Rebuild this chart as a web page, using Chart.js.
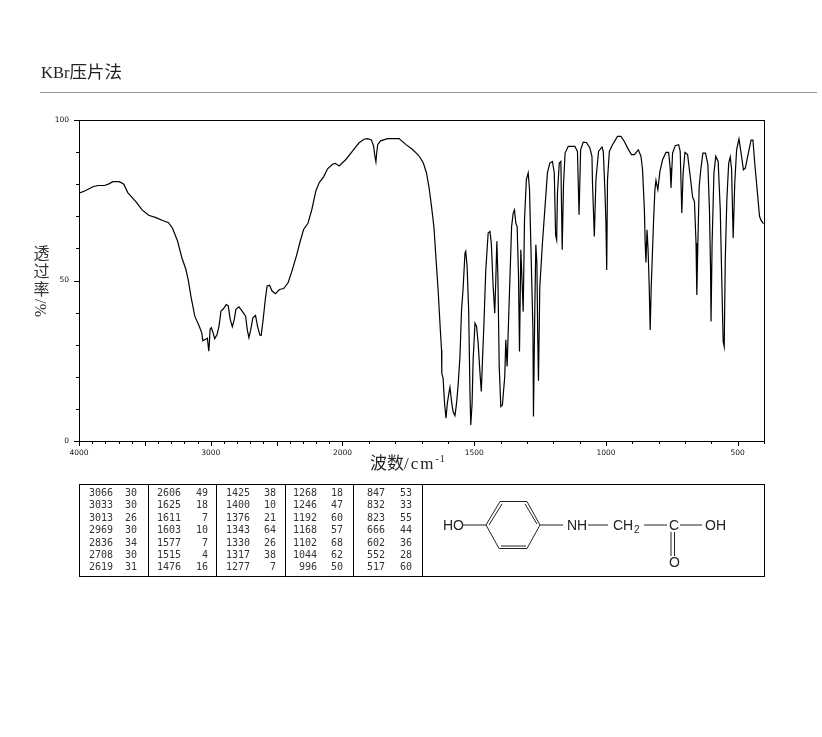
<!DOCTYPE html>
<html>
<head>
<meta charset="utf-8">
<title>KBr压片法</title>
<script src="https://cdn.jsdelivr.net/npm/chart.js@4"></script>
<style>
html, body { margin: 0; padding: 0; background: #fff; }
#page { position: relative; width: 822px; height: 737px; overflow: hidden; color: #222; }
#page > * { position: absolute; }
#myChart { left: 0; top: 0; }
#sampleTitle { left: 41px; top: 59px; font: 17.5px "Noto Sans CJK SC", sans-serif; line-height: 24px; white-space: nowrap; }
#sampleTitle span { font: 16.5px "Liberation Serif", serif; }
#rule { left: 40px; top: 92px; width: 777px; height: 1px; background: #999; }
#yTitle { left: 33px; top: 243px; width: 17px; font: 16px "Noto Sans CJK SC", sans-serif; line-height: 18px; color: #333; text-align: center; }
#yUnit { left: 32px; top: 299px; width: 18px; height: 18px; transform: rotate(-90deg); font: 16px "Liberation Serif", serif; line-height: 18px; color: #333; text-align: center; white-space: nowrap; }
#xTitle { left: 370px; top: 450px; font: 17px "Noto Sans CJK SC", sans-serif; line-height: 24px; white-space: nowrap; }
#xTitle span { font: 17px "Liberation Serif", serif; letter-spacing: 2px; }
#xTitle sup { font: 10px "Liberation Serif", serif; letter-spacing: 1px; line-height: 0; vertical-align: 7px; }
#peakBox { left: 79px; top: 484px; width: 684px; height: 91px; border: 1px solid #000; }
.sep { top: 484px; width: 1px; height: 92px; background: #000; }
.num { font: 10px "DejaVu Sans Mono", monospace; line-height: 12px; text-align: right; white-space: nowrap; color: #333; }
#molecule { left: 424px; top: 486px; }
#molecule text { font: 14px "Liberation Sans", sans-serif; fill: #222; }
#molecule line { stroke: #222; stroke-width: 1; }
</style>
</head>
<body>
<div id="page">
  <canvas id="myChart" width="822" height="737"></canvas>
  <div id="sampleTitle"><span>KBr</span>压片法</div>
  <div id="rule"></div>
  <div id="yTitle">透<br>过<br>率</div>
  <div id="yUnit">%/</div>
  <div id="xTitle">波数<span>/cm</span><sup>-1</sup></div>
  <div id="peakBox"></div>
  <svg id="molecule" width="340" height="90" viewBox="424 486 340 90">
    <text x="443" y="530">HO</text>
    <line x1="463" y1="525" x2="486" y2="525"/>
    <line x1="486" y1="525" x2="500" y2="501.5"/>
    <line x1="500" y1="501.5" x2="527" y2="501.5"/>
    <line x1="527" y1="501.5" x2="540" y2="525"/>
    <line x1="540" y1="525" x2="527" y2="548.5"/>
    <line x1="527" y1="548.5" x2="499" y2="548.5"/>
    <line x1="499" y1="548.5" x2="486" y2="525"/>
    <line x1="489" y1="525" x2="502" y2="504"/>
    <line x1="525" y1="504" x2="537" y2="524"/>
    <line x1="501" y1="546" x2="526" y2="546"/>
    <line x1="540" y1="525" x2="563" y2="525"/>
    <text x="567" y="530">NH</text>
    <line x1="588" y1="525" x2="608" y2="525"/>
    <text x="613" y="530">CH</text>
    <text x="634" y="533" style="font-size:10px">2</text>
    <line x1="644" y1="525" x2="667" y2="525"/>
    <text x="669" y="530">C</text>
    <line x1="680" y1="525" x2="702" y2="525"/>
    <text x="705" y="530">OH</text>
    <line x1="671" y1="532" x2="671" y2="556"/>
    <line x1="674.5" y1="532" x2="674.5" y2="556"/>
    <text x="669" y="567">O</text>
  </svg>
</div>
<script>
// spectrum: wavenumber (cm-1) and transmittance (%)
const wavenumbers = [
    4000, 3957, 3894, 3856, 3806, 3773, 3743, 3693, 3660, 3630, 3567, 3521, 3471, 3416, 3365, 3320,
    3290, 3252, 3219, 3189, 3169, 3151, 3121, 3088, 3068, 3060, 3038, 3025, 3015, 3010, 3005, 2995,
    2982, 2970, 2952, 2937, 2922, 2904, 2882, 2867, 2852, 2836, 2821, 2809, 2786, 2771, 2735, 2723,
    2710, 2698, 2680, 2660, 2645, 2627, 2617, 2602, 2584, 2572, 2554, 2534, 2509, 2478, 2446, 2413,
    2383, 2350, 2320, 2295, 2262, 2232, 2202, 2176, 2143, 2113, 2075, 2055, 2025,
    1987, 1962, 1937, 1918, 1905, 1890, 1882, 1877, 1873, 1870, 1866, 1855, 1829, 1785, 1760, 1735, 1715,
    1706, 1693, 1681, 1671, 1662, 1653, 1643, 1637, 1630, 1624, 1623, 1618, 1612, 1607, 1602, 1596,
    1592, 1585, 1580, 1573, 1567, 1561, 1554, 1548, 1542, 1535, 1532, 1527, 1521, 1516, 1513, 1508,
    1504, 1497, 1491, 1485, 1478, 1473, 1470, 1463, 1456, 1447, 1440, 1435, 1428, 1422, 1418, 1414,
    1410, 1405, 1399, 1393, 1384, 1380, 1375, 1367, 1358, 1352, 1347, 1342, 1337, 1332, 1328, 1323,
    1319, 1314, 1309, 1302, 1295, 1290, 1282, 1277, 1275, 1270, 1266, 1262, 1259, 1256, 1251, 1241,
    1232, 1222, 1213, 1203, 1196, 1191, 1187, 1184, 1177, 1171, 1166, 1161, 1155, 1143, 1118, 1108,
    1102, 1096, 1086, 1074, 1061, 1053,
    1051, 1044, 1038, 1028, 1015, 1010, 1004, 1000, 997, 994, 987, 975, 956, 943, 930, 914, 903, 892,
    877, 867, 861, 854, 851, 848, 844, 840, 836, 832, 828, 823, 819, 814, 810, 803, 795, 785, 772, 762,
    756, 753, 747, 737, 724, 718, 712, 707, 700, 690, 680, 671, 664, 658, 655, 651, 646, 640, 632, 622,
    613, 607, 603, 601, 597, 590, 583, 574, 566, 560, 555, 551, 547, 541, 534, 528, 523, 517, 511, 504,
    495, 487, 478, 471, 458, 449, 442, 434, 426, 417, 411, 402
];
const transmittance = [
    77.2, 77.9, 79.2, 79.6, 79.6, 80.1, 80.8, 80.8, 80.0, 77.4, 74.5, 72.0, 70.3, 69.6, 68.7, 68.0,
    66.3, 62.3, 57.1, 53.5, 49.8, 45.2, 38.9, 35.8, 33.7, 31.2, 31.7, 32.0, 28.0, 30.6, 34.8, 35.3,
    33.7, 31.9, 33.2, 35.8, 40.5, 41.2, 42.5, 42.1, 37.9, 35.6, 37.9, 41.0, 41.8, 41.0, 38.9, 34.8,
    32.2, 34.3, 38.4, 39.1, 35.8, 33.0, 32.9, 37.9, 44.7, 48.3, 48.5, 46.7, 45.9, 47.2, 47.5, 49.3,
    53.0, 57.6, 62.3, 65.9, 67.8, 72.2, 77.9, 80.5, 82.3, 84.8, 86.2, 86.5, 85.7,
    87.7, 90.3, 92.9, 94.0, 94.2, 93.8, 91.9, 88.8, 87.0, 89.8, 92.4, 93.5, 94.2, 94.2, 92.4, 90.9, 89.3,
    88.4, 86.6, 83.5, 78.8, 73.1, 66.8, 54.4, 47.1, 36.7, 28.4, 21.1, 19.5, 11.2, 7.1, 11.7, 14.9,
    16.7, 11.7, 9.1, 7.9, 11.7, 17.5, 26.3, 40.9, 47.6, 58.5, 59.1, 54.4, 40.9, 14.9, 5.0, 11.7,
    25.3, 36.7, 35.7, 30.5, 21.1, 15.4, 22.1, 36.7, 53.3, 64.8, 65.3, 61.6, 48.1, 39.8, 50.2, 62.2,
    51.2, 23.2, 10.7, 11.2, 20.1, 31.5, 23.2, 44.0, 66.8, 71.0, 72.0, 67.9, 66.8, 52.3, 27.9, 59.6,
    51.2, 40.3, 68.9, 81.4, 83.5, 78.3, 51.2, 34.6, 7.6, 40.9, 61.1, 55.4, 33.6, 18.8, 48.1, 61.6,
    72.0, 83.5, 86.6, 87.1, 83.5, 64.2, 62.7, 77.2, 86.6, 87.1, 59.6, 79.8, 89.7, 91.8, 91.8, 90.2,
    70.5, 90.7, 93.1, 93.0, 91.3, 88.7,
    80.4, 63.7, 81.4, 90.2, 91.6, 90.2, 78.3, 67.9, 53.3, 81.4, 90.2, 92.3, 94.9, 94.9, 93.3, 90.7, 89.2, 89.2,
    90.7, 88.7, 84.5, 72.0, 61.6, 55.6, 65.8, 59.6, 49.2, 34.6, 48.1, 59.6, 68.9, 78.3, 81.2, 78.3, 84.0, 87.6, 89.9, 89.9,
    85.0, 78.8, 89.7, 92.0, 92.3, 90.2, 71.0, 83.5, 89.9, 89.2, 82.4, 76.0, 74.6, 61.6, 45.5, 61.6, 79.3, 84.5, 89.7, 89.7,
    86.1, 72.0, 54.4, 37.2, 61.6, 83.5, 88.7, 87.1, 72.0, 49.2, 31.0, 29.4, 56.4, 75.2, 86.6, 88.5, 84.5, 63.2, 80.4, 90.7,
    94.1, 89.7, 84.5, 85.0, 90.2, 93.7, 93.7, 85.5, 78.3, 70.0, 68.7, 67.7
];

// peak table printed under the spectrum, one list per column
const peakWaves = [
    [3066, 3033, 3013, 2969, 2836, 2708, 2619],
    [2606, 1625, 1611, 1603, 1577, 1515, 1476],
    [1425, 1400, 1376, 1343, 1330, 1317, 1277],
    [1268, 1246, 1192, 1168, 1102, 1044, 996],
    [847, 832, 823, 666, 602, 552, 517]
];
const peakValues = [
    [30, 30, 26, 30, 34, 30, 31],
    [49, 18, 7, 10, 7, 4, 16],
    [38, 10, 21, 64, 26, 38, 7],
    [18, 47, 60, 57, 68, 62, 50],
    [53, 33, 55, 44, 36, 28, 60]
];

const xLabels = [4000, 3000, 2000, 1500, 1000, 500];
const xLongTicks = [4000, 3500, 3000, 2500, 2000, 1500, 1000, 500];
const yLabels = [0, 50, 100];

// the spectrometer chart doubles its scale below 2000 cm-1
function toAxis(w) {
    return w >= 2000 ? (4000 - w) / 2 : 1000 + (2000 - w);
}
function fromAxis(u) {
    return u <= 1000 ? 4000 - u * 2 : 3000 - u;
}

const spectrum = wavenumbers.map((w, i) => ({x: toAxis(w), y: transmittance[i]}));

// tick marks differ in length and the frame is closed on all sides
const frame = {
    id: 'frame',
    afterDraw(chart) {
        const c = chart.ctx;
        const a = chart.chartArea;
        c.save();
        c.strokeStyle = '#000';
        c.lineWidth = 1;
        c.strokeRect(a.left + 0.5, a.top + 0.5, a.right - a.left, a.bottom - a.top);
        c.beginPath();
        chart.scales.x.ticks.forEach(t => {
            const px = Math.round(chart.scales.x.getPixelForValue(t.value)) + 0.5;
            const len = xLongTicks.includes(Math.round(fromAxis(t.value))) ? 5 : 3;
            c.moveTo(px, a.bottom);
            c.lineTo(px, a.bottom + len);
        });
        chart.scales.y.ticks.forEach(t => {
            const py = Math.round(chart.scales.y.getPixelForValue(t.value)) + 0.5;
            const len = yLabels.includes(t.value) ? 5 : 3;
            c.moveTo(a.left, py);
            c.lineTo(a.left - len, py);
        });
        c.stroke();
        c.restore();
    }
};

const ctx = document.getElementById('myChart');

const config = {
    type: 'line',
    data: {
        datasets: [{
            data: spectrum,
            borderColor: '#000',
            borderWidth: 1.2,
            pointRadius: 0,
            tension: 0
        }]
    },
    options: {
        responsive: false,
        animation: false,
        devicePixelRatio: 1,
        parsing: false,
        layout: {padding: {left: 0, right: 58, top: 120, bottom: 266}},
        plugins: {legend: {display: false}, title: {display: false}, tooltip: {enabled: false}},
        scales: {
            x: {
                type: 'linear',
                min: 0,
                max: 2600,
                grid: {display: false},
                border: {display: false},
                afterFit(scale) { scale.height = 30; },
                afterBuildTicks(scale) {
                    const ticks = [];
                    for (let w = 4000; w >= 400; w -= 100) ticks.push({value: toAxis(w)});
                    scale.ticks = ticks;
                },
                ticks: {
                    autoSkip: false,
                    maxRotation: 0,
                    padding: 0,
                    color: '#111',
                    font: {family: 'DejaVu Sans', size: 7.5},
                    callback(value) {
                        const w = Math.round(fromAxis(value));
                        return xLabels.includes(w) ? String(w) : '';
                    }
                }
            },
            y: {
                min: 0,
                max: 100,
                grid: {display: false},
                border: {display: false},
                afterFit(scale) { scale.width = 79; },
                ticks: {
                    stepSize: 10,
                    autoSkip: false,
                    padding: 2,
                    color: '#111',
                    font: {family: 'DejaVu Sans', size: 7.5},
                    callback(value) {
                        return yLabels.includes(value) ? String(value) : '';
                    }
                }
            }
        }
    },
    plugins: [frame]
};

const myChart = new Chart(ctx, config);

// peak table
const page = document.getElementById('page');
const waveRight = [113, 181, 250, 317, 385];
const valueRight = [137, 208, 276, 343, 412];
const sepX = [148, 216, 285, 353, 422];

function addNumber(text, right, top) {
    const el = document.createElement('div');
    el.className = 'num';
    el.textContent = text;
    el.style.right = (822 - right) + 'px';
    el.style.top = top + 'px';
    page.appendChild(el);
}

peakWaves.forEach((col, i) => {
    col.forEach((w, r) => {
        const top = 487 + r * 12.4;
        addNumber(w, waveRight[i], top);
        addNumber(peakValues[i][r], valueRight[i], top);
    });
    const sep = document.createElement('div');
    sep.className = 'sep';
    sep.style.left = sepX[i] + 'px';
    page.appendChild(sep);
});
</script>
</body>
</html>
